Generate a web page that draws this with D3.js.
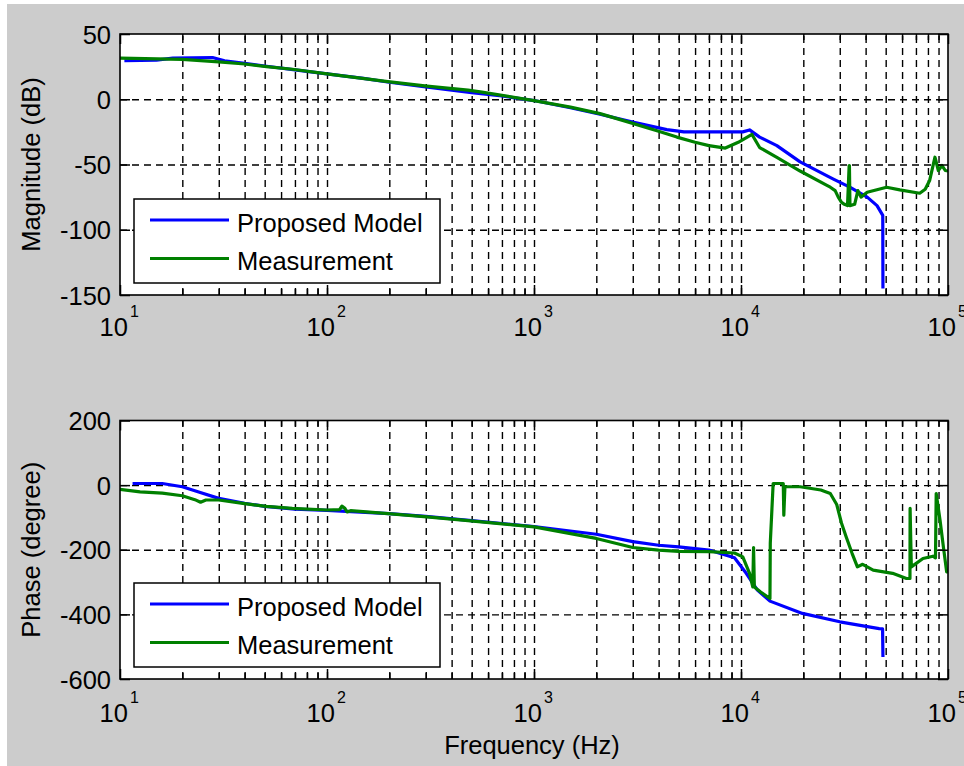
<!DOCTYPE html>
<html>
<head>
<meta charset="utf-8">
<script src="https://cdn.jsdelivr.net/npm/d3@7"></script>
<style>
  body { margin: 0; background: #ffffff; }
  svg { display: block; }
  text { font-family: "Liberation Sans", Arial, Helvetica, sans-serif; fill: #000; }
</style>
</head>
<body>
<svg id="chart" width="964" height="766"></svg>
<script>
// ---- Frequency axis (decades 10^1 .. 10^5) ----
const freqExponents = [1, 2, 3, 4, 5];

// ---- Value axes ----
const magTicks = [50, 0, -50, -100, -150];
const phaseTicks = [200, 0, -200, -400, -600];

const seriesNames = ["Proposed Model", "Measurement"];

// ---- Magnitude: proposed model ----
const magModelFreq = [10.5, 15, 18, 28, 32, 40, 50, 70, 100, 150, 200, 300, 500, 700, 1000, 1500,
  2085, 3000, 4380, 5300, 7000, 10200, 11000, 12300, 14900, 19300, 27800, 33700, 40700, 45400, 48400, 48500];
const magModelDb = [29.5, 30, 31.5, 32, 29.5, 27.5, 25.5, 22.5, 19.5, 16, 13, 9.5, 5, 2.5, -1, -6.5,
  -11.5, -17.5, -23.3, -25, -25, -25, -23.5, -29, -35.5, -48, -61, -67.5, -75, -81.5, -89, -145];

// ---- Magnitude: measurement ----
const magMeasFreq = [10, 20, 30, 40, 51, 68, 100, 197, 304, 480, 560, 1000, 1500, 2085, 3000, 4000, 4900,
  6000, 7000, 8400, 9700, 11300, 12300, 14900, 19300, 26000, 27000, 28500, 29500, 30600, 31600, 32700,
  33300, 33400, 33600, 35400, 36700, 38000, 40700, 50500, 58500, 73000, 77600, 81500, 86500, 89800,
  93600, 97000, 100000];
const magMeasDb = [31.5, 30.5, 28.7, 27, 25, 23, 19.5, 13.5, 10, 7, 5.5, -1, -6, -11, -18.5, -24.5, -29,
  -33, -35.5, -37.4, -33, -27, -37, -44.5, -55, -66, -67.4, -70, -75, -79, -80.5, -81.5,
  -50.8, -50.8, -81.5, -80.5, -70, -75, -71.3, -67.4, -69.4, -72, -69, -62.3, -44.4, -54.6,
  -50.8, -54.6, -55];

// ---- Phase: proposed model ----
const phaseModelFreq = [11.5, 16, 20, 24, 30, 40, 50, 70, 100, 200, 300, 500, 1000, 2000, 3000, 4000,
  5000, 7000, 9300, 10600, 12000, 13800, 19800, 30000, 46500, 48300, 48500];
const phaseModelDeg = [5, 5, -5, -21, -41, -56, -66, -74, -78, -88, -97, -110, -128, -152, -175, -186,
  -191, -201, -225, -273, -325, -359, -397, -423, -444, -445, -532];

// ---- Phase: measurement ----
const phaseMeasFreq = [10, 12.5, 16, 20, 23, 24.5, 26, 30, 40, 51, 68, 100, 115, 118, 122, 125, 130, 197,
  304, 480, 1000, 2000, 3000, 4000, 5000, 7000, 9300, 10200, 11000, 11400, 11500, 11600, 12400, 13800,
  13850, 14300, 15600, 16000, 16100, 16300, 19300, 24300, 27000, 29000, 30600, 32200, 34400, 36500,
  38700, 43500, 54000, 63000, 65500, 65600, 66500, 75700, 84600, 87000, 87700, 91500, 95000, 98500, 100000];
const phaseMeasDeg = [-13, -21, -25, -33, -45, -53, -46, -46, -57, -66, -72, -77, -76, -65, -72, -83, -79, -88,
  -98, -110, -129, -165, -193, -201, -205, -206, -210, -222, -273, -315, -193, -315, -330, -351,
  -180, 5, 5, 5, -93, -5, -5, -15, -26, -60, -118, -160, -211, -253, -245, -263, -273, -289, -289,
  -72, -253, -227, -220, -225, -26, -108, -191, -268, -270];

const BLUE = "#0000ff";
const GREEN = "#008000";
const FONT = 25.5;

const svg = d3.select("#chart");

// figure background
svg.append("rect").attr("x", 7).attr("y", 4).attr("width", 957).attr("height", 762).attr("fill", "#cccccc");

const x = d3.scaleLog().domain([10, 1e5]).range([120, 948]);

const majorX = freqExponents.map(e => Math.pow(10, e));
const minorX = [];
freqExponents.slice(0, -1).forEach(e => {
  for (let m = 2; m <= 9; m++) minorX.push(m * Math.pow(10, e));
});

function zip(fs, vs) { return fs.map((f, i) => [f, vs[i]]); }

function drawPanel(cfg) {
  const y = d3.scaleLinear().domain(cfg.domain).range(cfg.range);
  const top = cfg.range[1], bottom = cfg.range[0];
  const left = x.range()[0], right = x.range()[1];
  const h = bottom - top;
  const g = svg.append("g");

  // plot area
  g.append("rect").attr("x", left).attr("y", top).attr("width", right - left).attr("height", h).attr("fill", "#fff");

  const clipId = "clip-" + cfg.id;
  svg.append("clipPath").attr("id", clipId)
    .append("rect").attr("x", left).attr("y", top).attr("width", right - left).attr("height", h);

  // vertical grid (major + minor)
  const gridX = g.append("g").attr("transform", `translate(0,${bottom})`)
    .call(d3.axisBottom(x).tickValues(majorX.concat(minorX).filter(v => v > 10 && v < 1e5))
      .tickSize(-h).tickSizeOuter(0).tickFormat(""));
  gridX.select(".domain").remove();
  gridX.selectAll(".tick line").attr("stroke", "#000").attr("stroke-width", 1.4).attr("stroke-dasharray", "7,5");

  // horizontal grid
  const gridY = g.append("g").attr("transform", `translate(${left},0)`)
    .call(d3.axisLeft(y).tickValues(cfg.ticks.filter(v => v !== cfg.domain[0] && v !== cfg.domain[1]))
      .tickSize(-(right - left)).tickSizeOuter(0).tickFormat(""));
  gridY.select(".domain").remove();
  gridY.selectAll(".tick line").attr("stroke", "#000").attr("stroke-width", 1.4).attr("stroke-dasharray", "7,5");

  // curves
  const line = d3.line().x(d => x(d[0])).y(d => y(d[1]));
  const curves = g.append("g").attr("clip-path", `url(#${clipId})`);
  curves.append("path").datum(cfg.model).attr("d", line)
    .attr("fill", "none").attr("stroke", BLUE).attr("stroke-width", 3.2).attr("stroke-linejoin", "round");
  curves.append("path").datum(cfg.meas).attr("d", line)
    .attr("fill", "none").attr("stroke", GREEN).attr("stroke-width", 3.2).attr("stroke-linejoin", "round");

  // inward ticks on all four sides
  const tickAxes = [
    [d3.axisBottom(x).tickValues(majorX).tickSize(-10), `translate(0,${bottom})`],
    [d3.axisBottom(x).tickValues(minorX).tickSize(-6), `translate(0,${bottom})`],
    [d3.axisTop(x).tickValues(majorX).tickSize(-10), `translate(0,${top})`],
    [d3.axisTop(x).tickValues(minorX).tickSize(-6), `translate(0,${top})`],
    [d3.axisLeft(y).tickValues(cfg.ticks).tickSize(-10), `translate(${left},0)`],
    [d3.axisRight(y).tickValues(cfg.ticks).tickSize(-10), `translate(${right},0)`]
  ];
  tickAxes.forEach(([ax, tr]) => {
    const a = g.append("g").attr("transform", tr).call(ax.tickSizeOuter(0).tickFormat(""));
    a.select(".domain").remove();
    a.selectAll(".tick line").attr("stroke", "#000").attr("stroke-width", 1.5);
  });

  // axes box
  g.append("rect").attr("x", left).attr("y", top).attr("width", right - left).attr("height", h)
    .attr("fill", "none").attr("stroke", "#000").attr("stroke-width", 1.6);

  // y tick labels
  const yl = g.append("g").attr("transform", `translate(${left},0)`)
    .call(d3.axisLeft(y).tickValues(cfg.ticks).tickSize(0).tickPadding(9).tickFormat(d => String(d)));
  yl.select(".domain").remove();
  yl.selectAll("text").attr("font-size", FONT).attr("fill", "#000")
    .attr("font-family", '"Liberation Sans", Arial, sans-serif').attr("dy", "0.36em");

  // x tick labels: 10 with superscript exponent
  const xl = g.append("g").selectAll("text").data(freqExponents).join("text")
    .attr("x", e => x(Math.pow(10, e)) - 20.5)
    .attr("y", bottom + cfg.xLabelOffset)
    .attr("font-size", FONT);
  xl.append("tspan").text("10");
  xl.append("tspan").attr("dx", 2).attr("dy", -19.5).attr("font-size", 16).text(e => String(e));

  // y axis title
  g.append("text")
    .attr("transform", `translate(40,${(top + bottom) / 2}) rotate(-90)`)
    .attr("text-anchor", "middle").attr("font-size", FONT).text(cfg.title);

  // legend
  const lx = left + 14, ly = bottom - 96, lw = 306, lh = 84;
  const leg = g.append("g");
  leg.append("rect").attr("x", lx).attr("y", ly).attr("width", lw).attr("height", lh)
    .attr("fill", "#fff").attr("stroke", "#000").attr("stroke-width", 1.5);
  const rows = [[seriesNames[0], BLUE, 21], [seriesNames[1], GREEN, 59.5]];
  rows.forEach(([name, color, off]) => {
    leg.append("line").attr("x1", lx + 16).attr("x2", lx + 95)
      .attr("y1", ly + off).attr("y2", ly + off)
      .attr("stroke", color).attr("stroke-width", 3.2);
    leg.append("text").attr("x", lx + 103).attr("y", ly + off + 11.5)
      .attr("font-size", FONT).text(name);
  });
}

drawPanel({
  id: "mag",
  domain: [-150, 50], range: [295, 34],
  ticks: magTicks, title: "Magnitude (dB)",
  model: zip(magModelFreq, magModelDb), meas: zip(magMeasFreq, magMeasDb),
  xLabelOffset: 41
});

drawPanel({
  id: "phase",
  domain: [-600, 200], range: [679, 420.5],
  ticks: phaseTicks, title: "Phase (degree)",
  model: zip(phaseModelFreq, phaseModelDeg), meas: zip(phaseMeasFreq, phaseMeasDeg),
  xLabelOffset: 43
});

// shared frequency label
svg.append("text").attr("x", 532).attr("y", 754).attr("text-anchor", "middle")
  .attr("font-size", FONT).text("Frequency (Hz)");
</script>
</body>
</html>
